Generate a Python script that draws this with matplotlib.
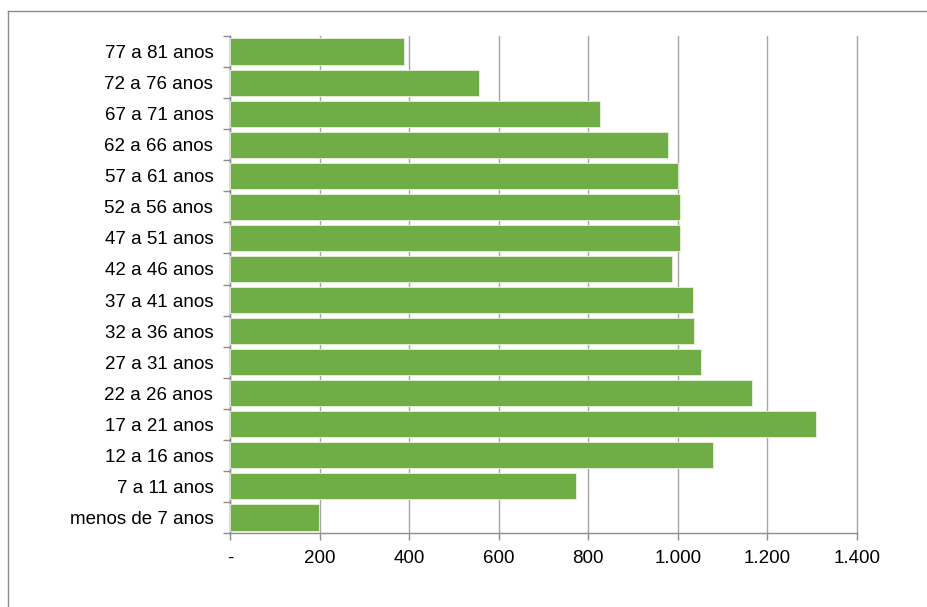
import numpy as np
import matplotlib.pyplot as plt
from matplotlib.lines import Line2D
from matplotlib.ticker import FuncFormatter

plt.rcParams['font.family'] = ['Liberation Sans', 'DejaVu Sans']

# faixas etarias, da mais nova para a mais velha
faixas = ["menos de 7 anos", "7 a 11 anos", "12 a 16 anos", "17 a 21 anos",
          "22 a 26 anos", "27 a 31 anos", "32 a 36 anos", "37 a 41 anos",
          "42 a 46 anos", "47 a 51 anos", "52 a 56 anos", "57 a 61 anos",
          "62 a 66 anos", "67 a 71 anos", "72 a 76 anos", "77 a 81 anos"]
valores = [198, 773, 1078, 1308, 1165, 1051, 1036, 1034,
           987, 1005, 1005, 1000, 978, 827, 557, 388]
xticks = [0, 200, 400, 600, 800, 1000, 1200, 1400]

fig = plt.figure(figsize=(9.28, 6.07), dpi=100)
ax = fig.add_axes([0.2478, 0.1219, 0.9235 - 0.2478, 0.9407 - 0.1219])

pos = np.arange(len(faixas))
ax.barh(pos, valores, height=0.84, color='#70AD47', edgecolor='#e8f2e0',
        linewidth=0.6, zorder=3)

ax.set_ylim(-0.5, len(faixas) - 0.5)
ax.set_xlim(0, 1400)
ax.set_yticks(pos)
ax.set_yticklabels(faixas, fontsize=13.5)
# ticks do eixo y entre as barras
ax.set_yticks(np.arange(len(faixas) + 1) - 0.5, minor=True)
ax.tick_params(axis='y', which='major', length=0, pad=12)
ax.tick_params(axis='y', which='minor', length=5, color='#8c8c8c', width=1)

ax.set_xticks(xticks)
ax.xaxis.set_major_formatter(FuncFormatter(
    lambda v, p: '-' if v == 0 else f'{int(v):,}'.replace(',', '.')))
ax.tick_params(axis='x', length=5, color='#8c8c8c', width=1, labelsize=13.5, pad=7)

ax.grid(axis='x', color='#a6a6a6', linewidth=1, zorder=0)
for gl in ax.get_xgridlines():
    gl.set_clip_on(False)
for s in ['top', 'right']:
    ax.spines[s].set_visible(False)
for s in ['left', 'bottom']:
    ax.spines[s].set_color('#8c8c8c')
    ax.spines[s].set_linewidth(1)

# moldura do grafico
fig.add_artist(Line2D([0.0081, 1.0], [0.9819, 0.9819], transform=fig.transFigure,
                      color='#8c8c8c', linewidth=1))
fig.add_artist(Line2D([0.0081, 0.0081], [0.0, 0.9819], transform=fig.transFigure,
                      color='#8c8c8c', linewidth=1))

fig.savefig('out.png', dpi=100)
